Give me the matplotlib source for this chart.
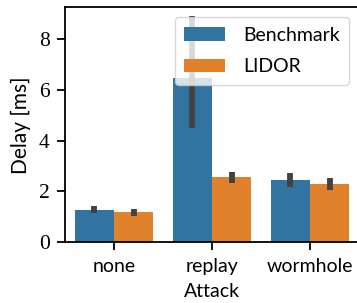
import matplotlib
matplotlib.use("Agg")
import matplotlib.pyplot as plt
import numpy as np

attacks = ["none", "replay", "wormhole"]
series = ["Benchmark", "LIDOR"]
benchmark = [1.27, 6.46, 2.45]
lidor = [1.19, 2.57, 2.30]
bench_lo = [1.17, 4.49, 2.19]
bench_hi = [1.43, 8.92, 2.72]
lidor_lo = [1.04, 2.34, 2.07]
lidor_hi = [1.31, 2.77, 2.52]
yticks = [0, 2, 4, 6, 8]

colors = ["#3274a1", "#e1812c"]
SANS = ["Lato", "DejaVu Sans"]
SERIF = ["Liberation Serif", "DejaVu Serif"]

fig = plt.figure(figsize=(3.57, 3.03), dpi=100)
ax = fig.add_axes([65 / 357, 1 - 242.3 / 303, 294 / 357, (242.3 - 7.3) / 303])

x = np.arange(len(attacks))
w = 0.4
vals = [benchmark, lidor]
los = [bench_lo, lidor_lo]
his = [bench_hi, lidor_hi]
for i, (name, v, lo, hi) in enumerate(zip(series, vals, los, his)):
    pos = x + (i - 0.5) * w
    ax.bar(pos, v, width=w, color=colors[i], label=name, zorder=2)
    ax.vlines(pos, lo, hi, color="#424242", lw=4.2, zorder=3)

ax.set_xlim(-0.5, len(attacks) - 0.5)
ax.set_ylim(0, 9.25)
ax.set_xticks(x)
ax.set_xticklabels(attacks, fontfamily=SANS, fontsize=14)
ax.set_yticks(yticks)
ax.set_yticklabels([str(t) for t in yticks], fontfamily=SERIF, fontsize=15.5)
ax.set_xlabel("Attack", fontfamily=SANS, fontsize=14, labelpad=6)
ax.set_ylabel("Delay [ms]", fontfamily=SANS, fontsize=15, labelpad=6)
for s in ax.spines.values():
    s.set_linewidth(1.3)
ax.tick_params(axis="both", length=6, width=1.3, pad=5)

ax.legend(loc="upper right", prop={"family": SANS, "size": 14}, framealpha=0.8,
          handlelength=2.1, handleheight=0.7, handletextpad=0.9,
          borderpad=0.5, labelspacing=0.75)

fig.savefig("out.png", dpi=100)
